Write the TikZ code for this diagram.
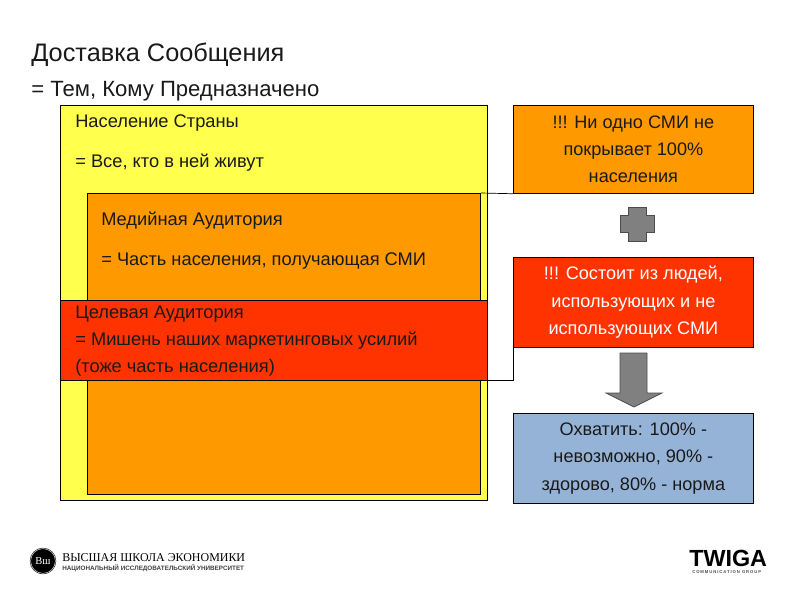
\documentclass[tikz,border=0pt]{standalone}
\usepackage{fontspec}
\setmainfont{Liberation Sans}
\newfontfamily\logofont{Liberation Serif}
\definecolor{yellowbox}{HTML}{FFFF4D}
\definecolor{orangebox}{HTML}{FF9900}
\definecolor{redbox}{HTML}{FF3300}
\definecolor{bluebox}{HTML}{95B3D7}
\definecolor{grayshape}{HTML}{808080}
\definecolor{inktext}{HTML}{1A1A1A}
\tikzset{
  panel/.style={draw=black, line width=0.5pt, inner sep=0pt, anchor=north west},
  notebox/.style={panel, minimum width=6cm, minimum height=2.25cm, align=center, font=\fontsize{12.9}{19.4}\selectfont},
  textlabel/.style={anchor=west, inner sep=0pt, align=left, text=inktext, font=\fontsize{13}{19.2}\selectfont},
  grayform/.style={draw=black!70, line width=0.5pt, fill=grayshape}
}
\begin{document}
\begin{tikzpicture}[x=0.025cm, y=-0.025cm]
  \useasboundingbox (0, 0) rectangle (800, 600);

  %titulo
  \node[textlabel, font=\fontsize{18}{20}\selectfont] (title) at (31, 55) {Доставка Сообщения};
  \node[textlabel, font=\fontsize{15.7}{16}\selectfont] (subtitle) at (31, 91) {= Тем, Кому Предназначено};

  %caixas da esquerda
  \node[panel, fill=yellowbox, minimum width=10.675cm, minimum height=9.875cm] (population) at (60, 105) {};
  \node[panel, fill=orangebox, minimum width=9.825cm, minimum height=7.525cm] (media) at (87, 193) {};
  \node[panel, fill=redbox, minimum width=10.675cm, minimum height=2cm] (target) at (60, 300) {};

  %textos da esquerda
  \node[textlabel] (populationname) at (75, 123) {Население Страны};
  \node[textlabel] (populationtext) at (75, 163) {= Все, кто в ней живут};
  \node[textlabel] (medianame) at (101, 221) {Медийная Аудитория};
  \node[textlabel] (mediatext) at (101, 261) {= Часть населения, получающая СМИ};
  \node[textlabel] (targettext) at (75, 341) {Целевая Аудитория\\= Мишень наших маркетинговых усилий\\(тоже часть населения)};

  %caixas da direita
  \node[notebox, minimum height=2.2cm, fill=orangebox, text=inktext] (coverage) at (513, 105) {!!! Ни одно СМИ не\\покрывает 100\%\\населения};
  \node[notebox, fill=redbox, text=white] (people) at (513, 257) {!!! Состоит из людей,\\использующих и не\\использующих СМИ};
  \node[notebox, fill=bluebox, text=inktext] (reach) at (513, 413) {Охватить: 100\% -\\невозможно, 90\% -\\здорово, 80\% - норма};

  %linhas
  \draw[line width=0.5pt] (media.north east) -- (coverage.south west);
  \draw[line width=0.5pt] (target.south east) -| (people.south west);

  %cruz e seta
  \draw[grayform] (628, 207) -- (646, 207) -- (646, 215) -- (654, 215) -- (654, 232) -- (646, 232) -- (646, 241) -- (628, 241) -- (628, 232) -- (620, 232) -- (620, 215) -- (628, 215) -- cycle;
  \draw[grayform] (620, 353) -- (647, 353) -- (647, 393) -- (662, 393) -- (634, 407) -- (606, 393) -- (620, 393) -- cycle;

  %logos
  \node[circle, fill=black, draw=black, double=white, double distance=0.3pt, minimum size=0.62cm, inner sep=0pt, text=white, font=\logofont\fontsize{7.5}{8}\selectfont] (hselogo) at (43, 561) {Вш};
  \node[textlabel, text=black, font=\logofont\fontsize{8.5}{9}\selectfont] (hsename) at (62, 558) {ВЫСШАЯ ШКОЛА ЭКОНОМИКИ};
  \node[textlabel, text=black!75, font=\fontsize{4.5}{5}\selectfont\bfseries] (hsesub) at (62, 568) {НАЦИОНАЛЬНЫЙ ИССЛЕДОВАТЕЛЬСКИЙ УНИВЕРСИТЕТ};
  \node[textlabel, text=black, font=\fontsize{16.6}{17}\selectfont\bfseries] (twiga) at (689, 558.5) {TWIGA};
  \node[textlabel, text=black!70, font=\fontsize{3}{4}\selectfont\bfseries\addfontfeatures{LetterSpace=22}] (twigasub) at (692, 572) {COMMUNICATION GROUP};
\end{tikzpicture}
\end{document}
